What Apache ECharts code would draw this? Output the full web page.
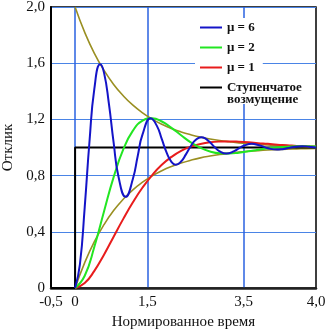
<!DOCTYPE html>
<html>
<head>
<meta charset="utf-8">
<script src="https://cdn.jsdelivr.net/npm/echarts@6/dist/echarts.min.js"></script>
<style>html,body{margin:0;padding:0;background:#fff}#c{width:330px;height:330px}</style>
</head>
<body>
<div id="c"></div>
<script>
// ---- data ----
var tFine = [0,0.1,0.2,0.3,0.4,0.52,0.6,0.7,0.8,0.9,1.05,1.2,1.3,1.4,1.57,1.7,1.8,1.9,2.0,2.09,2.2,2.3,2.4,2.5,2.62,2.7,2.8,2.9,3.0,3.14,3.3,3.4,3.5,3.67,3.8,3.9,4.0,4.19,4.3,4.4,4.5,4.71,4.8,4.9,5.0];
var mu6 = [0,0.168,0.576,1.048,1.419,1.592,1.533,1.316,1.035,0.794,0.649,0.777,0.940,1.093,1.208,1.152,1.059,0.964,0.898,0.877,0.900,0.951,1.009,1.053,1.073,1.065,1.037,1.002,0.973,0.957,0.974,0.994,1.012,1.026,1.018,1.007,0.995,0.985,0.988,0.994,1.001,1.009,1.008,1.004,1.000];
var tCoarse = [0,0.2,0.4,0.6,0.8,1.0,1.2,1.4,1.6,1.8,2.0,2.2,2.4,2.6,2.8,3.0,3.2,3.4,3.6,3.8,4.0,4.2,4.4,4.6,4.8,5.0];
var mu2 = [0,0.087,0.293,0.545,0.789,0.986,1.120,1.191,1.208,1.185,1.140,1.087,1.037,0.998,0.972,0.959,0.957,0.963,0.973,0.984,0.994,1.001,1.006,1.009,1.009,1.007];
var mu1 = [0,0.035,0.122,0.237,0.365,0.492,0.610,0.715,0.804,0.877,0.933,0.976,1.006,1.025,1.037,1.042,1.043,1.041,1.037,1.031,1.026,1.020,1.016,1.011,1.008,1.005];
var envUpper = [2.0,1.819,1.670,1.549,1.449,1.368,1.301,1.247,1.202,1.165,1.135,1.111,1.091,1.074,1.061,1.050,1.041,1.033,1.027,1.022,1.018,1.015,1.012,1.010,1.008,1.007];
var envLower = [0,0.181,0.330,0.451,0.551,0.632,0.699,0.753,0.798,0.835,0.865,0.889,0.909,0.926,0.939,0.950,0.959,0.967,0.973,0.978,0.982,0.985,0.988,0.990,0.992,0.993];
var stepT = [-0.5,0,0,5.0];
var stepY = [0,0,1,1];
var xTickValues = [-0.5,0,1.5,3.5,5.0];
var xTickLabels = ['-0,5','0','1,5','3,5','4,0'];
var xGridValues = [0,1.5,3.5];
var yTickValues = [0,0.4,0.8,1.2,1.6,2.0];
var yTickLabels = ['0','0,4','0,8','1,2','1,6','2,0'];
var names = ['\u03bc = 6','\u03bc = 2','\u03bc = 1','\u0421\u0442\u0443\u043f\u0435\u043d\u0447\u0430\u0442\u043e\u0435\n\u0432\u043e\u0437\u043c\u0443\u0449\u0435\u043d\u0438\u0435'];

function pairs(xs, ys){ return xs.map(function(x,i){ return [x, ys[i]]; }); }
function lookup(vals, labels, v){
  for (var i=0;i<vals.length;i++){ if (Math.abs(vals[i]-v) < 1e-6) return labels[i]; }
  return '';
}

var serif = 'Liberation Serif, Times New Roman, serif';
var gridBlue = '#4a84e6';
var gridBlueV = '#2a62e0';
var olive = '#9a8f22';
var legendText = {fontFamily: serif, fontSize: 13, fontWeight: 'bold', color: '#111'};

// x axis: ticks every 0.5 from -0.5 to 5.0; only xGridValues get a visible split line
var xMin = -0.5, xMax = 5.0, xStep = 0.5;
var xSplitColors = [];
for (var k = 0; xMin + k * xStep <= xMax + 1e-9; k++) {
  var tv = xMin + k * xStep;
  var isGrid = xGridValues.some(function(g){ return Math.abs(g - tv) < 1e-6; });
  xSplitColors.push(isGrid ? gridBlueV : 'rgba(0,0,0,0)');
}

var chart = echarts.init(document.getElementById('c'), null, {renderer:'canvas'});
chart.setOption({
  animation: false,
  backgroundColor: '#fff',
  grid: {left: 51, right: 14, top: 7, bottom: 42, outerBoundsMode: 'none', containLabel: false,
    show: true, borderColor: '#000', borderWidth: 1.5, backgroundColor: 'transparent'},
  legend: [
    {
      data: [names[0], names[1], names[2]],
      orient: 'vertical',
      left: 195, top: 18,
      padding: [3, 8, 30, 5],
      backgroundColor: '#fff',
      itemGap: 7,
      itemWidth: 22, itemHeight: 2,
      icon: 'rect',
      textStyle: legendText
    },
    {
      data: [names[3]],
      orient: 'vertical',
      left: 200, top: 69,
      padding: 0,
      z: 6,
      backgroundColor: 'transparent',
      itemWidth: 22, itemHeight: 2,
      icon: 'rect',
      formatter: function(n){ return '\n' + n; },
      textStyle: {fontFamily: serif, fontSize: 13, fontWeight: 'bold', color: '#111', lineHeight: 12}
    }
  ],
  xAxis: {
    type: 'value', min: xMin, max: xMax, interval: xStep,
    axisLine: {show: true, onZero: false, lineStyle: {color: '#222', width: 2.5}},
    axisTick: {show: false},
    splitLine: {show: true, showMinLine: true, showMaxLine: true, lineStyle: {color: xSplitColors, width: 1.5}},
    axisLabel: {color: '#111', fontFamily: serif, fontSize: 15, margin: 7,
      formatter: function(v){ return lookup(xTickValues, xTickLabels, v); }},
    name: '\u041d\u043e\u0440\u043c\u0438\u0440\u043e\u0432\u0430\u043d\u043d\u043e\u0435 \u0432\u0440\u0435\u043c\u044f',
    nameLocation: 'middle', nameGap: 22,
    nameTextStyle: {color: '#111', fontFamily: serif, fontSize: 15}
  },
  yAxis: {
    type: 'value', min: 0, max: 2.0, interval: 0.4,
    axisLine: {show: true, onZero: false, lineStyle: {color: '#000', width: 2}},
    axisTick: {show: false},
    splitLine: {show: true, lineStyle: {color: gridBlue, width: 1}},
    axisLabel: {color: '#111', fontFamily: serif, fontSize: 15, margin: 6,
      formatter: function(v){ return lookup(yTickValues, yTickLabels, v); }},
    name: '\u041e\u0442\u043a\u043b\u0438\u043a',
    nameLocation: 'middle', nameGap: 29,
    nameTextStyle: {color: '#111', fontFamily: serif, fontSize: 15}
  },
  series: [
    {name: 'envUpper', type: 'line', data: pairs(tCoarse, envUpper), smooth: true, symbol: 'none', lineStyle: {color: olive, width: 1.6}, itemStyle: {color: olive}, z: 2},
    {name: 'envLower', type: 'line', data: pairs(tCoarse, envLower), smooth: true, symbol: 'none', lineStyle: {color: olive, width: 1.6}, itemStyle: {color: olive}, z: 2},
    {name: names[3], type: 'line', data: pairs(stepT, stepY), symbol: 'none', lineStyle: {color: '#000', width: 2}, itemStyle: {color: '#000'}, z: 3},
    {name: names[2], type: 'line', data: pairs(tCoarse, mu1), smooth: true, symbol: 'none', lineStyle: {color: '#e81c1c', width: 2}, itemStyle: {color: '#e81c1c'}, z: 4},
    {name: names[1], type: 'line', data: pairs(tCoarse, mu2), smooth: true, symbol: 'none', lineStyle: {color: '#22e622', width: 2}, itemStyle: {color: '#22e622'}, z: 5},
    {name: names[0], type: 'line', data: pairs(tFine, mu6), smooth: true, symbol: 'none', lineStyle: {color: '#1414c8', width: 2}, itemStyle: {color: '#1414c8'}, z: 6}
  ]
});
</script>
</body>
</html>
